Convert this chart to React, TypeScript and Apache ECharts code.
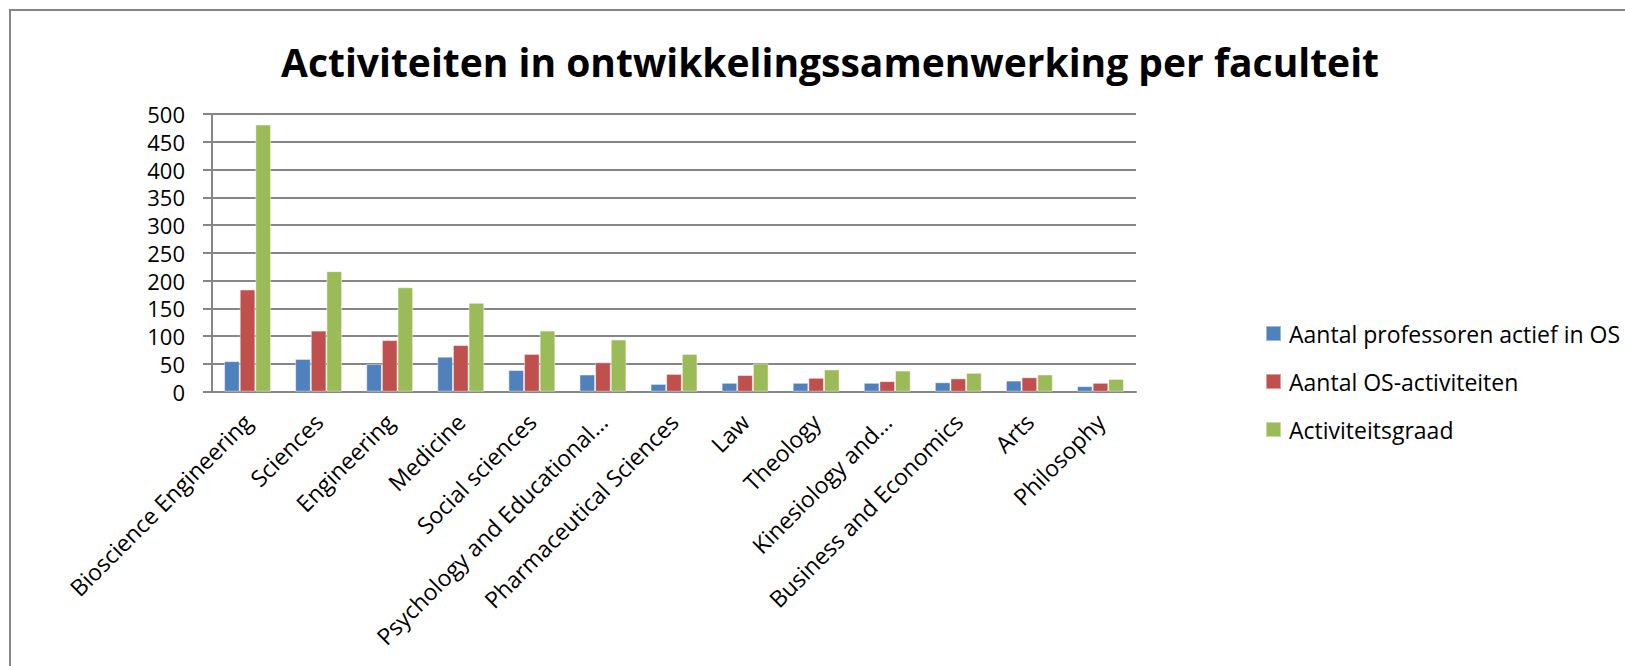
import React, { useEffect, useRef } from "react";
import * as echarts from "echarts";

const titleText = "Activiteiten in ontwikkelingssamenwerking per faculteit";

const categories = [
  "Bioscience Engineering",
  "Sciences",
  "Engineering",
  "Medicine",
  "Social sciences",
  "Psychology and Educational…",
  "Pharmaceutical Sciences",
  "Law",
  "Theology",
  "Kinesiology and…",
  "Business and Economics",
  "Arts",
  "Philosophy",
];

const seriesNames = [
  "Aantal professoren actief in OS",
  "Aantal OS-activiteiten",
  "Activiteitsgraad",
];

const professoren = [55, 59, 50, 63, 39, 31, 14, 16, 16, 16, 17, 20, 10];
const activiteiten = [184, 110, 93, 84, 68, 53, 32, 30, 25, 19, 24, 26, 16];
const activiteitsgraad = [481, 217, 188, 160, 110, 94, 68, 51, 40, 38, 34, 31, 23];

const colors = ["#4F81BD", "#C0504D", "#9BBB59"];

const FONT = "'Open Sans', sans-serif";

export default function App() {
  const ref = useRef<HTMLDivElement>(null);

  useEffect(() => {
    if (!ref.current) return;
    const chart = echarts.init(ref.current, null, { renderer: "svg" });
    const dataSets = [professoren, activiteiten, activiteitsgraad];
    chart.setOption({
      animation: false,
      backgroundColor: "#ffffff",
      textStyle: { fontFamily: FONT },
      title: {
        text: titleText,
        left: 825,
        textAlign: "center",
        top: 37,
        textStyle: {
          fontFamily: FONT,
          fontWeight: "bold",
          fontSize: 39,
          color: "#000000",
        },
      },
      graphic: [
        {
          type: "rect",
          shape: { x: 10, y: 10, width: 1640, height: 700 },
          style: { fill: "none", stroke: "#868686", lineWidth: 2 },
          silent: true,
          z: -1,
        },
      ],
      legend: {
        orient: "vertical",
        left: 1260,
        top: 317,
        itemWidth: 15,
        itemHeight: 15,
        itemGap: 25,
        icon: "rect",
        data: seriesNames,
        textStyle: {
          fontFamily: FONT,
          fontSize: 23,
          color: "#000000",
          padding: [0, 0, 0, 3],
        },
      },
      grid: {
        left: 212,
        right: 489,
        top: 114,
        bottom: 274.3,
        containLabel: false,
      },
      xAxis: {
        type: "category",
        data: categories,
        axisLine: { show: true, lineStyle: { color: "#868686", width: 2 } },
        axisTick: { show: false },
        axisLabel: {
          interval: 0,
          rotate: 45,
          margin: 26,
          fontFamily: FONT,
          fontSize: 23,
          color: "#000000",
        },
      },
      yAxis: {
        type: "value",
        min: 0,
        max: 500,
        interval: 50,
        axisLine: { show: true, lineStyle: { color: "#868686", width: 2 } },
        axisTick: {
          show: true,
          inside: false,
          length: 9,
          lineStyle: { color: "#868686", width: 2 },
        },
        splitLine: { show: true, lineStyle: { color: "#868686", width: 2 } },
        axisLabel: {
          margin: 27,
          fontFamily: FONT,
          fontSize: 22,
          lineHeight: 22,
          color: "#000000",
        },
      },
      series: seriesNames.map((name, i) => ({
        name,
        type: "bar",
        data: dataSets[i],
        barGap: "0%",
        barCategoryGap: "34%",
        itemStyle: {
          color: colors[i],
          borderColor: "rgba(255,255,255,0.45)",
          borderWidth: 1,
        },
      })),
    });
    return () => chart.dispose();
  }, []);

  return (
    <div
      ref={ref}
      style={{ position: "fixed", left: 0, top: 0, width: 1625, height: 666 }}
    />
  );
}
